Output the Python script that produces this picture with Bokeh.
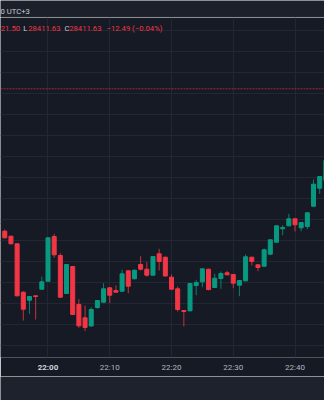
import pandas as pd
from bokeh.plotting import figure
from bokeh.layouts import column
from bokeh.models import (Range1d, FixedTicker, DatetimeTickFormatter, Span, Label,
                          ColumnDataSource, DatetimeAxis)
from bokeh.embed import file_html
from bokeh.resources import INLINE

DAY = "2023-04-05 "

times = ["21:52", "21:53", "21:54", "21:55", "21:56", "21:57", "21:58", "21:59",
         "22:00", "22:01", "22:02", "22:03", "22:04", "22:05", "22:06", "22:07",
         "22:08", "22:09", "22:10", "22:11", "22:12", "22:13", "22:14", "22:15",
         "22:16", "22:17", "22:18", "22:19", "22:20", "22:21", "22:22", "22:23",
         "22:24", "22:25", "22:26", "22:27", "22:28", "22:29", "22:30", "22:31",
         "22:32", "22:33", "22:34", "22:35", "22:36", "22:37", "22:38", "22:39",
         "22:40", "22:41", "22:42", "22:43", "22:44", "22:45"]
opens = [28347.86, 28344.43, 28342.05, 28338.43, 28315.38, 28311.57, 28313.67, 28316.81,
         28320.62, 28341.90, 28332.86, 28314.76, 28327.62, 28309.52, 28303.19, 28299.29,
         28308.10, 28310.62, 28317.48, 28316.19, 28315.86, 28325.57, 28321.76, 28328.57,
         28326.33, 28323.48, 28333.67, 28332.05, 28322.52, 28317.00, 28306.67, 28306.52,
         28318.57, 28320.33, 28326.33, 28317.62, 28321.90, 28324.62, 28323.81, 28318.71,
         28320.81, 28332.05, 28328.43, 28327.76, 28333.48, 28339.19, 28345.57, 28347.00,
         28350.33, 28346.05, 28346.67, 28356.33, 28364.90, 28368.57]
highs = [28348.60, 28345.24, 28342.30, 28338.60, 28315.86, 28313.50, 28313.81, 28322.86,
         28341.50, 28343.19, 28333.95, 28328.80, 28327.90, 28312.05, 28309.05, 28308.24,
         28311.60, 28319.67, 28317.70, 28318.57, 28326.19, 28325.80, 28326.10, 28332.52,
         28329.67, 28332.60, 28336.05, 28332.30, 28323.81, 28318.10, 28306.90, 28319.70,
         28321.29, 28326.70, 28326.60, 28324.14, 28325.24, 28325.57, 28324.00, 28321.20,
         28333.33, 28332.30, 28328.60, 28336.19, 28340.50, 28347.20, 28347.29, 28352.71,
         28350.50, 28348.80, 28353.40, 28369.05, 28370.70, 28378.40]
lows = [28347.60, 28340.95, 28338.20, 28313.33, 28301.90, 28305.10, 28302.38, 28316.60,
        28320.40, 28331.76, 28312.80, 28314.50, 28304.50, 28298.43, 28296.90, 28299.00,
        28307.48, 28310.40, 28310.14, 28315.20, 28315.60, 28314.90, 28321.50, 28325.71,
        28322.86, 28323.30, 28325.71, 28322.90, 28316.60, 28306.19, 28299.05, 28306.30,
        28313.95, 28317.76, 28316.19, 28317.40, 28317.00, 28323.50, 28317.29, 28313.48,
        28320.60, 28328.10, 28325.38, 28327.50, 28333.30, 28339.00, 28342.52, 28346.80,
        28344.29, 28344.43, 28345.38, 28356.10, 28362.24, 28368.30]
closes = [28348.33, 28341.29, 28338.43, 28313.67, 28307.29, 28313.33, 28313.33, 28320.33,
          28341.29, 28333.19, 28313.00, 28328.57, 28304.76, 28299.38, 28298.57, 28307.14,
          28311.43, 28317.00, 28313.95, 28315.38, 28324.14, 28318.24, 28325.86, 28326.33,
          28323.48, 28332.38, 28330.00, 28323.10, 28316.81, 28307.14, 28306.19, 28319.52,
          28320.00, 28326.52, 28316.67, 28322.05, 28324.29, 28323.67, 28319.67, 28320.95,
          28332.24, 28330.00, 28327.14, 28335.57, 28340.33, 28347.00, 28346.19, 28350.33,
          28347.48, 28348.57, 28353.19, 28366.81, 28370.48, 28378.10]

hour_tick = ["22:00"]
minute_ticks = ["22:10", "22:20", "22:30", "22:40"]
price_grid = [28290, 28300, 28310, 28320, 28330, 28340, 28350, 28360,
              28370, 28380, 28390, 28400, 28410, 28420, 28430, 28440]
x_view = ["21:52:18.5", "22:44:46.6"]
y_view = [28284.29, 28446.19]
price_line = 28412.24
legend_level = 28440.8

legend_high = "21.50"
legend_low = "28411.63"
legend_close = "28411.63"
legend_change = "\u221212.49 (\u22120.04%)"
header_text = "0 UTC+3"

BG = "#161a25"
HEADER_BG = "#1c202b"
FOOT_BG = "#1e222d"
GRID = "#232733"
UP = "#089981"
DOWN = "#f23645"
TXT = "#b2b5be"
FONT = "Roboto"

ts = pd.to_datetime([DAY + t for t in times])
cols = [UP if c >= o else DOWN for o, c in zip(opens, closes)]
src = ColumnDataSource(dict(
    t=ts, o=opens, h=highs, l=lows, c=closes,
    top=[max(o, c) for o, c in zip(opens, closes)],
    bot=[min(o, c) for o, c in zip(opens, closes)],
    col=cols))

# header strip
hdr = figure(width=324, height=17, x_range=(0, 324), y_range=(0, 17),
             toolbar_location=None, output_backend="svg", min_border=0,
             background_fill_color=HEADER_BG, border_fill_color=HEADER_BG,
             outline_line_color=None)
hdr.axis.visible = False
hdr.grid.visible = False
hdr.add_layout(Label(x=0, y=6.3, x_units="screen", y_units="screen", text=header_text,
                     text_align="left", text_baseline="middle", text_font=FONT,
                     text_font_size="7.7px", text_color="#c9ccd4"))
hdr.add_layout(Span(location=0.5, dimension="width", line_color="#262a35", line_width=1))

# main chart: fixed frame size 324 x 340
p = figure(frame_width=324, frame_height=340, x_axis_type="datetime",
           x_range=Range1d(pd.Timestamp(DAY + x_view[0]), pd.Timestamp(DAY + x_view[1])),
           y_range=Range1d(y_view[0], y_view[1]),
           toolbar_location=None, output_backend="svg",
           min_border_left=0, min_border_right=0, min_border_top=0, min_border_bottom=19,
           background_fill_color=BG, border_fill_color=BG, outline_line_color=None)
p.yaxis.visible = False
p.yaxis.ticker = FixedTicker(ticks=price_grid)

fmt = "%H:%M"
def make_fmt():
    return DatetimeTickFormatter(microseconds=fmt, milliseconds=fmt, seconds=fmt,
                                 minsec=fmt, minutes=fmt, hourmin=fmt, hours=fmt,
                                 days=fmt, months=fmt, years=fmt)

hour_ms = [pd.Timestamp(DAY + s).value // 10**6 for s in hour_tick]
min_ms = [pd.Timestamp(DAY + s).value // 10**6 for s in minute_ticks]

# first axis (closest to frame): the hour label, bold
ax = p.xaxis[0]
ax.ticker = FixedTicker(ticks=hour_ms)
ax.formatter = make_fmt()
ax.axis_line_color = None
ax.major_tick_line_color = None
ax.minor_tick_line_color = None
ax.major_tick_in = 0
ax.major_tick_out = 0
ax.minor_tick_out = 0
ax.major_label_standoff = 5
ax.major_label_text_font = FONT
ax.major_label_text_font_size = "8px"
ax.major_label_text_font_style = "bold"
ax.major_label_text_color = "#d1d4dc"

# second axis: the other labels, pulled up onto the same line
ax2 = DatetimeAxis(ticker=FixedTicker(ticks=min_ms), formatter=make_fmt(),
                   axis_line_color=None, major_tick_line_color=None,
                   minor_tick_line_color=None, major_tick_in=0, major_tick_out=0,
                   minor_tick_out=0, major_label_standoff=-12,
                   major_label_text_font=FONT, major_label_text_font_size="8px",
                   major_label_text_color=TXT)
p.add_layout(ax2, "below")

p.xgrid.ticker = FixedTicker(ticks=hour_ms + min_ms)
p.grid.grid_line_color = GRID
p.grid.grid_line_width = 1

p.add_layout(Span(location=price_line, dimension="width", line_color=DOWN,
                  line_alpha=0.6, line_dash="2 1", line_width=1))

p.segment(x0="t", y0="l", x1="t", y1="h", source=src, line_color="col",
          line_alpha=0.8, line_width=1)
p.vbar(x="t", top="top", bottom="bot", width=0.65 * 60000, source=src,
       fill_color="col", line_color="col", line_width=1)

# legend text
pieces = [(legend_high, 0.3, DOWN), ("L", 22.7, "#c9ccd4"),
          (legend_low, 27.7, DOWN), ("C", 64.0, "#c9ccd4"),
          (legend_close, 68.7, DOWN), (legend_change, 106.0, DOWN)]
for txt, x, colr in pieces:
    p.add_layout(Label(x=x, y=legend_level, x_units="screen", y_units="data", text=txt,
                       text_align="left", text_baseline="middle", text_font=FONT,
                       text_font_size="7.7px", text_color=colr))

# bottom bar
foot = figure(width=324, height=24, x_range=(0, 1), y_range=(0, 1),
              toolbar_location=None, output_backend="svg", min_border=0,
              background_fill_color=FOOT_BG, border_fill_color=FOOT_BG,
              outline_line_color=None)
foot.axis.visible = False
foot.grid.visible = False

layout = column(hdr, p, foot, spacing=0)
open("out.html", "w").write(file_html(layout, INLINE))
